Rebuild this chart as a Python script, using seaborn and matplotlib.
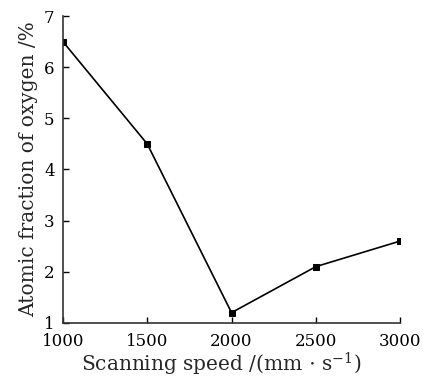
import matplotlib
matplotlib.use("Agg")
import matplotlib.pyplot as plt
import seaborn as sns
import pandas as pd

# values
speed = [1000, 1500, 2000, 2500, 3000]
oxygen = [6.5, 4.5, 1.2, 2.1, 2.6]

sns.set_style("ticks")
plt.rcParams['font.family'] = ['DejaVu Serif']
plt.rcParams['mathtext.fontset'] = 'dejavuserif'

data = pd.DataFrame({"speed": speed, "oxygen": oxygen})

fig = plt.figure(figsize=(4.28, 3.83), dpi=100)
ax = fig.add_axes([0.147, 0.157, 0.788, 0.801])

sns.lineplot(data=data, x="speed", y="oxygen", ax=ax, color="black",
             linewidth=1.2, marker="s", markersize=5, markeredgecolor="black")

ax.set_xlim(1000, 3000)
ax.set_ylim(1, 7)
ax.set_xticks([1000, 1500, 2000, 2500, 3000])
ax.set_yticks([1, 2, 3, 4, 5, 6, 7])
ax.tick_params(direction="in", length=4, width=1, labelsize=12, colors="black")
ax.tick_params(axis="x", pad=7.5)
ax.tick_params(axis="y", pad=6)
for s in ["left", "bottom"]:
    ax.spines[s].set_linewidth(1.2)
    ax.spines[s].set_color("#333333")
sns.despine(ax=ax)

ax.set_xlabel(r"Scanning speed /(mm $\cdot$ s$^{-1}$)", fontsize=14.5, labelpad=0)
ax.set_ylabel("Atomic fraction of oxygen /%", fontsize=14.5, labelpad=4)
ax.xaxis.set_label_coords(0.47, -0.09)

fig.savefig("out.png", dpi=100)
